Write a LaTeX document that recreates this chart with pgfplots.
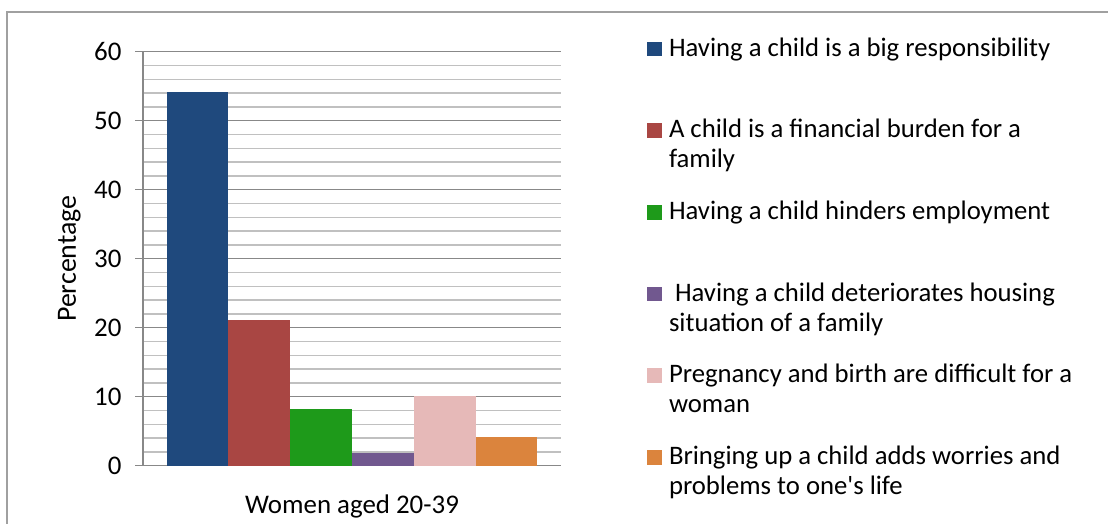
\documentclass[border=0pt]{standalone}
\usepackage{pgfplots}
\pgfplotsset{compat=1.18}
\usepackage{fontspec}
\setmainfont{Carlito}
\definecolor{c1}{HTML}{1F497D}
\definecolor{c2}{HTML}{A94643}
\definecolor{c3}{HTML}{1E9A1A}
\definecolor{c4}{HTML}{71588F}
\definecolor{c5}{HTML}{E6B9B8}
\definecolor{c6}{HTML}{DB843D}
\definecolor{majg}{HTML}{888888}
\definecolor{ming}{HTML}{C0C0C0}
\definecolor{framec}{HTML}{A0A0A0}
\newcommand{\lt}[1]{\parbox[t][81.7bp][t]{430bp}{\rule{0pt}{21bp}#1}}
\begin{document}
\begin{tikzpicture}[x=1bp,y=1bp,font=\fontsize{27}{32}\selectfont]
\useasboundingbox (0,0) rectangle (1108,524);
\draw[framec,line width=1.5bp] (7,0) -- (7,512) -- (1108,512);
\begin{axis}[
  at={(143bp,58.3bp)}, anchor=south west, scale only axis,
  width=418bp, height=414bp,
  ybar=0pt, bar width=61.8bp,
  xmin=-0.5, xmax=0.5, ymin=0, ymax=60,
  xtick={0}, xticklabels={Women aged 20-39},
  ytick={0,10,...,60}, minor y tick num=4,
  ymajorgrids, yminorgrids,
  major grid style={draw=majg, line width=1.5bp},
  minor grid style={draw=ming, line width=1.5bp},
  axis x line*=bottom, axis y line*=left,
  axis line style={-, draw=majg, line width=1.5bp},
  tick align=outside, major tick length=8bp, minor tick length=0pt,
  ytick style={draw=majg, line width=1.5bp}, xtick style={draw=none},
  /pgf/number format/assume math mode=true,
  yticklabel style={xshift=-10bp},
  xticklabel style={yshift=-18bp},
  ylabel={Percentage},
  ylabel style={at={(axis description cs:-0.176,0.5)}, anchor=center, rotate=0,
    font=\fontsize{28}{32}\selectfont},
  legend style={at={(1.2057,1.040)}, anchor=north west, draw=none, fill=none,
    inner sep=0pt, outer sep=0pt, row sep=0pt, column sep=7bp,
    font=\fontsize{26.8}{30}\selectfont,
    cells={anchor=base west}, nodes={inner sep=0pt, text depth={}, text height={}}},
]
\addplot[fill=c1, draw=none, legend image code/.code={\fill[c1] (0bp,0bp) rectangle (15bp,14.5bp);}] coordinates {(0,54.2)};
\addplot[fill=c2, draw=none, legend image code/.code={\fill[c2] (0bp,0bp) rectangle (15bp,14.5bp);}] coordinates {(0,21.1)};
\addplot[fill=c3, draw=none, legend image code/.code={\fill[c3] (0bp,0bp) rectangle (15bp,14.5bp);}] coordinates {(0,8.2)};
\addplot[fill=c4, draw=none, legend image code/.code={\fill[c4] (0bp,0bp) rectangle (15bp,14.5bp);}] coordinates {(0,1.8)};
\addplot[fill=c5, draw=none, legend image code/.code={\fill[c5] (0bp,0bp) rectangle (15bp,14.5bp);}] coordinates {(0,10.1)};
\addplot[fill=c6, draw=none, legend image code/.code={\fill[c6] (0bp,0bp) rectangle (15bp,14.5bp);}] coordinates {(0,4.2)};
\legend{\lt{Having a child is a big responsibility},
  \lt{A child is a financial burden for a\\family},
  \lt{Having a child hinders employment},
  \lt{\hspace{6bp}Having a child deteriorates housing\\situation of a family},
  \lt{Pregnancy and birth are difficult for a\\woman},
  \lt{Bringing up a child adds worries and\\problems to one\textquotesingle s life}}
\end{axis}
\end{tikzpicture}
\end{document}
